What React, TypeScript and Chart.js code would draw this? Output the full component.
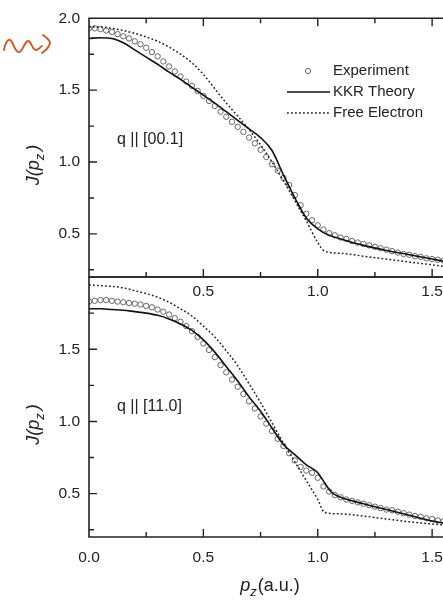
import React, { useEffect, useRef } from 'react';
import { Chart, registerables } from 'chart.js';

Chart.register(...registerables);

const FONT = "'Liberation Sans', Arial, Helvetica, sans-serif";
const INK = '#222';

// Series labels
const seriesLabels = ['Experiment', 'KKR Theory', 'Free Electron'];
const panelLabels = ['q || [00.1]', 'q || [11.0]'];

// Tick labels shown
const topXTickLabels = ['0.5', '1.0', '1.5'];
const bottomXTickLabels = ['0.0', '0.5', '1.0', '1.5'];
const topYTickLabels = ['0.5', '1.0', '1.5', '2.0'];
const bottomYTickLabels = ['0.5', '1.0', '1.5'];

// Experimental p_z grid (a.u.)
const expPz = [
  0, 0.025, 0.05, 0.075, 0.1, 0.125, 0.15, 0.175, 0.2, 0.225, 0.25, 0.275, 0.3, 0.325, 0.35, 0.375,
  0.4, 0.425, 0.45, 0.475, 0.5, 0.525, 0.55, 0.575, 0.6, 0.625, 0.65, 0.675, 0.7, 0.725, 0.75, 0.775,
  0.8, 0.825, 0.85, 0.875, 0.9, 0.925, 0.95, 0.975, 1.0, 1.025, 1.05, 1.075, 1.1, 1.125, 1.15, 1.175,
  1.2, 1.225, 1.25, 1.275, 1.3, 1.325, 1.35, 1.375, 1.4, 1.425, 1.45, 1.475, 1.5, 1.525, 1.55,
];

// Panel 1: q || [00.1]
const expJ001 = [
  1.93, 1.93, 1.925, 1.915, 1.905, 1.89, 1.875, 1.86, 1.84, 1.82, 1.795, 1.765, 1.735, 1.7, 1.665, 1.63,
  1.595, 1.56, 1.53, 1.495, 1.46, 1.425, 1.39, 1.35, 1.315, 1.28, 1.245, 1.21, 1.17, 1.13, 1.085, 1.035,
  0.985, 0.94, 0.89, 0.84, 0.77, 0.7, 0.64, 0.595, 0.56, 0.53, 0.505, 0.49, 0.475, 0.465, 0.45, 0.44,
  0.43, 0.42, 0.41, 0.4, 0.39, 0.38, 0.37, 0.36, 0.355, 0.345, 0.34, 0.33, 0.325, 0.32, 0.315,
];
const kkrPz001 = [0, 0.05, 0.1, 0.15, 0.2, 0.25, 0.3, 0.35, 0.4, 0.45, 0.5, 0.55, 0.6, 0.65, 0.7, 0.75, 0.8, 0.85, 0.9, 0.95, 1.0, 1.05, 1.1, 1.2, 1.3, 1.4, 1.5, 1.55];
const kkrJ001 = [1.86, 1.865, 1.86, 1.83, 1.78, 1.73, 1.68, 1.625, 1.575, 1.52, 1.465, 1.41, 1.35, 1.29, 1.23, 1.17, 1.08, 0.91, 0.75, 0.61, 0.535, 0.49, 0.465, 0.42, 0.385, 0.355, 0.325, 0.31];
const freePz001 = [0, 0.05, 0.1, 0.15, 0.2, 0.25, 0.3, 0.35, 0.4, 0.45, 0.5, 0.55, 0.6, 0.65, 0.7, 0.75, 0.8, 0.85, 0.9, 0.95, 1.0, 1.03, 1.1, 1.2, 1.3, 1.4, 1.5, 1.55];
const freeJ001 = [1.94, 1.94, 1.93, 1.915, 1.895, 1.87, 1.84, 1.8, 1.75, 1.69, 1.61, 1.51, 1.41, 1.32, 1.225, 1.12, 1.0, 0.87, 0.73, 0.59, 0.44, 0.38, 0.365, 0.345, 0.325, 0.305, 0.285, 0.275];

// Panel 2: q || [11.0]
const expJ110 = [
  1.83, 1.835, 1.84, 1.84, 1.835, 1.83, 1.825, 1.82, 1.815, 1.81, 1.8, 1.79, 1.775, 1.76, 1.74, 1.715,
  1.69, 1.66, 1.625, 1.585, 1.54, 1.495, 1.445, 1.39, 1.34, 1.29, 1.24, 1.19, 1.14, 1.09, 1.035, 0.985,
  0.935, 0.88, 0.83, 0.78, 0.73, 0.685, 0.66, 0.645, 0.61, 0.55, 0.515, 0.49, 0.475, 0.46, 0.45, 0.44,
  0.43, 0.42, 0.41, 0.4, 0.39, 0.385, 0.375, 0.365, 0.355, 0.345, 0.34, 0.33, 0.325, 0.315, 0.31,
];
const kkrPz110 = [0, 0.05, 0.1, 0.15, 0.2, 0.25, 0.3, 0.35, 0.4, 0.45, 0.5, 0.55, 0.6, 0.65, 0.7, 0.75, 0.8, 0.85, 0.9, 0.95, 1.0, 1.03, 1.06, 1.1, 1.2, 1.3, 1.4, 1.5, 1.55];
const kkrJ110 = [1.78, 1.78, 1.775, 1.77, 1.76, 1.75, 1.735, 1.71, 1.675, 1.63, 1.565, 1.48, 1.38, 1.28, 1.17, 1.07, 0.955, 0.84, 0.77, 0.7, 0.645, 0.575, 0.51, 0.475, 0.43, 0.39, 0.35, 0.31, 0.296];
const freePz110 = [0, 0.05, 0.1, 0.15, 0.2, 0.25, 0.3, 0.35, 0.4, 0.45, 0.5, 0.55, 0.6, 0.65, 0.7, 0.75, 0.8, 0.85, 0.9, 0.95, 1.0, 1.03, 1.1, 1.2, 1.3, 1.4, 1.5, 1.55];
const freeJ110 = [1.945, 1.94, 1.935, 1.925, 1.905, 1.885, 1.86, 1.825, 1.78, 1.73, 1.66, 1.585, 1.49, 1.385, 1.26, 1.13, 0.99, 0.85, 0.72, 0.59, 0.46, 0.37, 0.36, 0.345, 0.325, 0.305, 0.29, 0.283];

const X_MIN = 0;
const X_MAX = 1.6;
const Y_MIN = 0.2;
const Y_MAX = 2.0;

const pts = (xs: number[], ys: number[]) => xs.map((x, i) => ({ x, y: ys[i] }));
const fmt = (v: number) => v.toFixed(1);
const onGrid = (v: number, step: number) => Math.abs(v / step - Math.round(v / step)) < 1e-6;

type Spec = {
  top: boolean;
  label: string;
  expJ: number[];
  kkrX: number[];
  kkrY: number[];
  freeX: number[];
  freeY: number[];
  xLabels: string[];
  yLabels: string[];
};

function drawJTitle(ctx: CanvasRenderingContext2D, cx: number, cy: number) {
  ctx.save();
  ctx.translate(cx, cy);
  ctx.rotate(-Math.PI / 2);
  ctx.fillStyle = INK;
  ctx.textBaseline = 'alphabetic';
  ctx.textAlign = 'left';
  const big = `italic 18px ${FONT}`;
  const small = `italic 13px ${FONT}`;
  ctx.font = big;
  const w1 = ctx.measureText('J(p').width;
  const w3 = ctx.measureText(')').width;
  ctx.font = small;
  const w2 = ctx.measureText('z').width;
  const gap = 3;
  let x = -(w1 + w2 + gap + w3) / 2;
  ctx.font = big;
  ctx.fillText('J(p', x, 0);
  x += w1;
  ctx.font = small;
  ctx.fillText('z', x, 5);
  x += w2 + gap;
  ctx.font = big;
  ctx.fillText(')', x, 0);
  ctx.restore();
}

function drawXTitle(ctx: CanvasRenderingContext2D, cx: number, by: number) {
  ctx.save();
  ctx.fillStyle = INK;
  ctx.textBaseline = 'alphabetic';
  ctx.textAlign = 'left';
  const it = `italic 18px ${FONT}`;
  const small = `italic 13px ${FONT}`;
  const rg = `18px ${FONT}`;
  ctx.font = it;
  const w1 = ctx.measureText('p').width;
  ctx.font = small;
  const w2 = ctx.measureText('z').width;
  ctx.font = rg;
  const w3 = ctx.measureText('(a.u.)').width;
  let x = cx - (w1 + w2 + 1 + w3) / 2;
  ctx.font = it;
  ctx.fillText('p', x, by);
  x += w1;
  ctx.font = small;
  ctx.fillText('z', x, by + 5);
  x += w2 + 1;
  ctx.font = rg;
  ctx.fillText('(a.u.)', x, by);
  ctx.restore();
}

function drawSquiggle(ctx: CanvasRenderingContext2D) {
  ctx.save();
  ctx.strokeStyle = '#d4561f';
  ctx.lineWidth = 1.9;
  ctx.lineCap = 'round';
  ctx.lineJoin = 'round';
  ctx.beginPath();
  ctx.moveTo(4, 50);
  ctx.bezierCurveTo(5, 43, 8, 39, 10, 40);
  ctx.bezierCurveTo(13, 41, 14, 50, 18, 52);
  ctx.bezierCurveTo(22, 54, 24, 42, 28, 41);
  ctx.bezierCurveTo(31, 40, 32, 50, 36, 50);
  ctx.bezierCurveTo(39, 50, 40, 47, 42, 46);
  ctx.stroke();
  ctx.beginPath();
  ctx.moveTo(43, 35);
  ctx.quadraticCurveTo(50, 40, 50, 43);
  ctx.quadraticCurveTo(49, 48, 42, 53);
  ctx.stroke();
  ctx.restore();
}

function makeDecor(spec: Spec) {
  return {
    id: 'panelDecor',
    afterDraw(chart: any) {
      const ctx: CanvasRenderingContext2D = chart.ctx;
      const a = chart.chartArea;
      const xs = chart.scales.x;
      const ys = chart.scales.y;
      ctx.save();
      ctx.strokeStyle = INK;
      ctx.lineWidth = 1.6;
      // frame
      ctx.beginPath();
      ctx.moveTo(a.right, a.top);
      ctx.lineTo(a.left, a.top);
      ctx.lineTo(a.left, a.bottom);
      ctx.lineTo(a.right, a.bottom);
      ctx.stroke();
      // inward ticks
      ctx.lineWidth = 1.4;
      ctx.beginPath();
      ys.ticks.forEach((t: any) => {
        if (!onGrid(t.value, 0.25)) return;
        const py = ys.getPixelForValue(t.value);
        if (py < a.top + 2 || py > a.bottom - 2) return;
        const len = onGrid(t.value, 0.5) ? 8 : 5;
        ctx.moveTo(a.left, py);
        ctx.lineTo(a.left + len, py);
      });
      xs.ticks.forEach((t: any) => {
        if (!onGrid(t.value, 0.25)) return;
        const px = xs.getPixelForValue(t.value);
        if (px < a.left + 2 || px > a.right - 2) return;
        const len = onGrid(t.value, 0.5) ? 8 : 5;
        ctx.moveTo(px, a.bottom);
        ctx.lineTo(px, a.bottom - len);
        if (spec.top) {
          ctx.moveTo(px, a.top);
          ctx.lineTo(px, a.top + len);
        }
      });
      ctx.stroke();

      // panel label
      ctx.fillStyle = INK;
      ctx.font = `16px ${FONT}`;
      ctx.textAlign = 'left';
      ctx.textBaseline = 'middle';
      ctx.fillText(spec.label, 117, spec.top ? 140 : 407);

      // y title
      drawJTitle(ctx, 39, ys.getPixelForValue(1.0) + 3);

      if (spec.top) {
        // legend
        const ds = chart.data.datasets;
        const rows = [71, 92, 113];
        ctx.font = `15px ${FONT}`;
        ctx.textBaseline = 'middle';
        ctx.textAlign = 'left';
        ds.forEach((d: any, i: number) => {
          const y = rows[i];
          if (d.showLine === false) {
            ctx.beginPath();
            ctx.lineWidth = 1;
            ctx.strokeStyle = d.borderColor;
            ctx.arc(308, y, 2.6, 0, Math.PI * 2);
            ctx.stroke();
          } else {
            ctx.beginPath();
            ctx.lineWidth = d.borderWidth;
            ctx.strokeStyle = d.borderColor;
            ctx.setLineDash(d.borderDash || []);
            ctx.moveTo(287, y);
            ctx.lineTo(330, y);
            ctx.stroke();
            ctx.setLineDash([]);
          }
          ctx.fillStyle = INK;
          ctx.fillText(d.label, 333, y);
        });
        drawSquiggle(ctx);
      } else {
        drawXTitle(ctx, (a.left + a.right) / 2 - 2, 591);
      }
      ctx.restore();
    },
  };
}

function makeConfig(spec: Spec): any {
  const tickFont = { family: FONT, size: 15.5 };
  return {
    type: 'scatter',
    data: {
      datasets: [
        {
          label: seriesLabels[0],
          data: pts(expPz, spec.expJ),
          showLine: false,
          pointStyle: 'circle',
          pointRadius: 2.7,
          pointBorderWidth: 1,
          borderColor: '#666',
          pointBorderColor: '#666',
          backgroundColor: 'rgba(255,255,255,0)',
          pointBackgroundColor: 'rgba(255,255,255,0)',
          order: 2,
        },
        {
          label: seriesLabels[1],
          data: pts(spec.kkrX, spec.kkrY),
          showLine: true,
          pointRadius: 0,
          borderColor: '#111',
          borderWidth: 1.6,
          cubicInterpolationMode: 'monotone',
          order: 0,
        },
        {
          label: seriesLabels[2],
          data: pts(spec.freeX, spec.freeY),
          showLine: true,
          pointRadius: 0,
          borderColor: '#222',
          borderWidth: 1.5,
          borderDash: [1.8, 2.2],
          cubicInterpolationMode: 'monotone',
          order: 1,
        },
      ],
    },
    options: {
      animation: false,
      responsive: false,
      events: [],
      layout: {
        padding: spec.top
          ? { top: 13, bottom: 293, left: 0, right: 4 }
          : { top: 277, bottom: 23, left: 0, right: 4 },
      },
      plugins: { legend: { display: false }, tooltip: { enabled: false } },
      scales: {
        x: {
          type: 'linear',
          min: X_MIN,
          max: X_MAX,
          grid: { display: false, drawTicks: false },
          border: { display: false },
          ticks: {
            stepSize: 0.25,
            includeBounds: false,
            autoSkip: false,
            maxRotation: 0,
            padding: spec.top ? 5 : 11,
            color: INK,
            font: tickFont,
            callback: (v: number) => (spec.xLabels.includes(fmt(v)) && onGrid(v, 0.5) ? fmt(v) : ''),
          },
          afterFit: (s: any) => {
            s.height = spec.top ? 30 : 40;
          },
        },
        y: {
          type: 'linear',
          min: Y_MIN,
          max: Y_MAX,
          grid: { display: false, drawTicks: false },
          border: { display: false },
          ticks: {
            stepSize: 0.25,
            includeBounds: false,
            autoSkip: false,
            padding: 9,
            color: INK,
            font: tickFont,
            callback: (v: number) => (spec.yLabels.includes(fmt(v)) && onGrid(v, 0.5) ? fmt(v) : ''),
          },
          afterFit: (s: any) => {
            s.width = 89;
          },
        },
      },
    },
    plugins: [makeDecor(spec)],
  };
}

const topSpec: Spec = {
  top: true,
  label: panelLabels[0],
  expJ: expJ001,
  kkrX: kkrPz001,
  kkrY: kkrJ001,
  freeX: freePz001,
  freeY: freeJ001,
  xLabels: topXTickLabels,
  yLabels: topYTickLabels,
};

const bottomSpec: Spec = {
  top: false,
  label: panelLabels[1],
  expJ: expJ110,
  kkrX: kkrPz110,
  kkrY: kkrJ110,
  freeX: freePz110,
  freeY: freeJ110,
  xLabels: bottomXTickLabels,
  yLabels: bottomYTickLabels,
};

export default function App() {
  const topRef = useRef<HTMLCanvasElement>(null);
  const botRef = useRef<HTMLCanvasElement>(null);
  useEffect(() => {
    const b = new Chart(botRef.current as HTMLCanvasElement, makeConfig(bottomSpec));
    const t = new Chart(topRef.current as HTMLCanvasElement, makeConfig(topSpec));
    return () => {
      t.destroy();
      b.destroy();
    };
  }, []);
  return (
    <div
      style={{
        position: 'fixed',
        left: 0,
        top: 0,
        width: 443,
        height: 600,
        overflow: 'hidden',
        background: '#fff',
      }}
    >
      <canvas ref={botRef} width={460} height={600} style={{ position: 'absolute', left: 0, top: 0 }} />
      <canvas ref={topRef} width={460} height={600} style={{ position: 'absolute', left: 0, top: 0 }} />
    </div>
  );
}
